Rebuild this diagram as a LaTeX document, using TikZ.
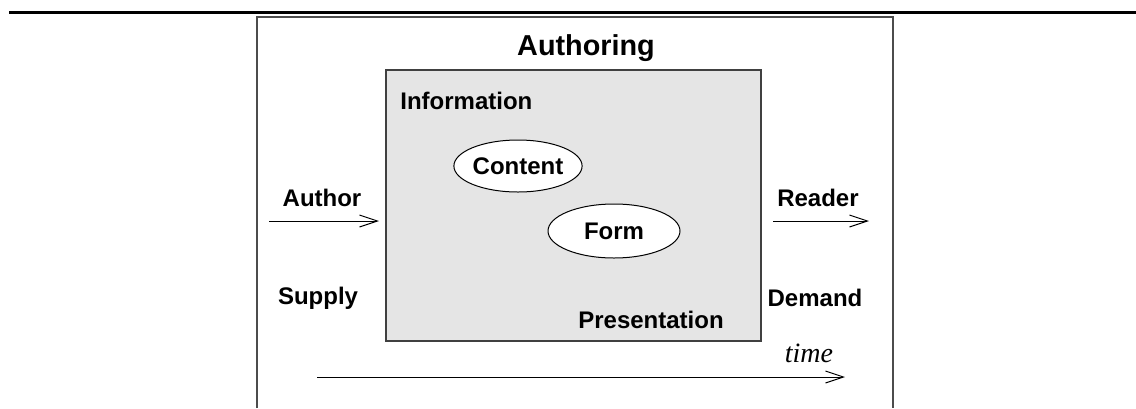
\documentclass[tikz,border=0pt]{standalone}
\usepackage{fontspec}
\setmainfont{Liberation Sans}
\newfontfamily\timesfont{Liberation Serif}
\usetikzlibrary{arrows.meta,shapes.geometric}
\tikzset{lbl/.style={font=\bfseries\large,inner sep=1pt},
  oval/.style={ellipse,draw,fill=white,line width=0.5pt,minimum width=64pt,minimum height=26pt,inner sep=0pt,font=\bfseries\large},
  flow/.style={-{Straight Barb[length=9pt,width=6pt]},line width=0.5pt}}

\begin{document}
\begin{tikzpicture}[x=0.5pt,y=-0.5pt]
  \useasboundingbox (0,0) rectangle (1136,408);

  % frame
  \coordinate (tl) at (9,12);
  \coordinate (tr) at (1136,12);
  \coordinate (bl) at (257,408);
  \coordinate (ul) at (257,17);
  \coordinate (ur) at (893,17);
  \coordinate (br) at (893,408);
  \draw [line width=1.5pt] (tl) -- (tr);
  \draw [line width=0.8pt,black!70] (bl) -- (ul) -- (ur) -- (br);

  \node [lbl,font=\bfseries\Large] (authoring) at (586,48) {Authoring};
  \node [draw=black!75,fill=black!10,line width=0.6pt,minimum width=187.5pt,
         minimum height=135.5pt,inner sep=0pt] (info) at (573.5,205.5) {};
  \node [lbl,anchor=west] (information) at (398,101) {Information};
  \node [lbl] (presentation) at (651,320) {Presentation};
  \node [oval] (content) at (518,166) {Content};
  \node [oval,minimum width=66pt,minimum height=27pt] (form) at (614,231) {Form};

  % supply side
  \node [lbl] (author) at (322,198) {Author};
  \node [lbl] (supply) at (318,298) {Supply};
  \coordinate (ain)  at (269,221);
  \coordinate (aout) at (379,221);
  \draw [flow] (ain) -- (aout);

  % demand side
  \node [lbl] (reader) at (818,198) {Reader};
  \node [lbl] (demand) at (815,298) {Demand};
  \coordinate (rin)  at (773,221);
  \coordinate (rout) at (869,221);
  \draw [flow] (rin) -- (rout);

  % time axis
  \node [font=\timesfont\itshape\fontsize{14}{16}\selectfont] (time) at (809,353) {time};
  \coordinate (t0) at (317,377);
  \coordinate (t1) at (845,377);
  \draw [flow] (t0) -- (t1);
\end{tikzpicture}
\end{document}
